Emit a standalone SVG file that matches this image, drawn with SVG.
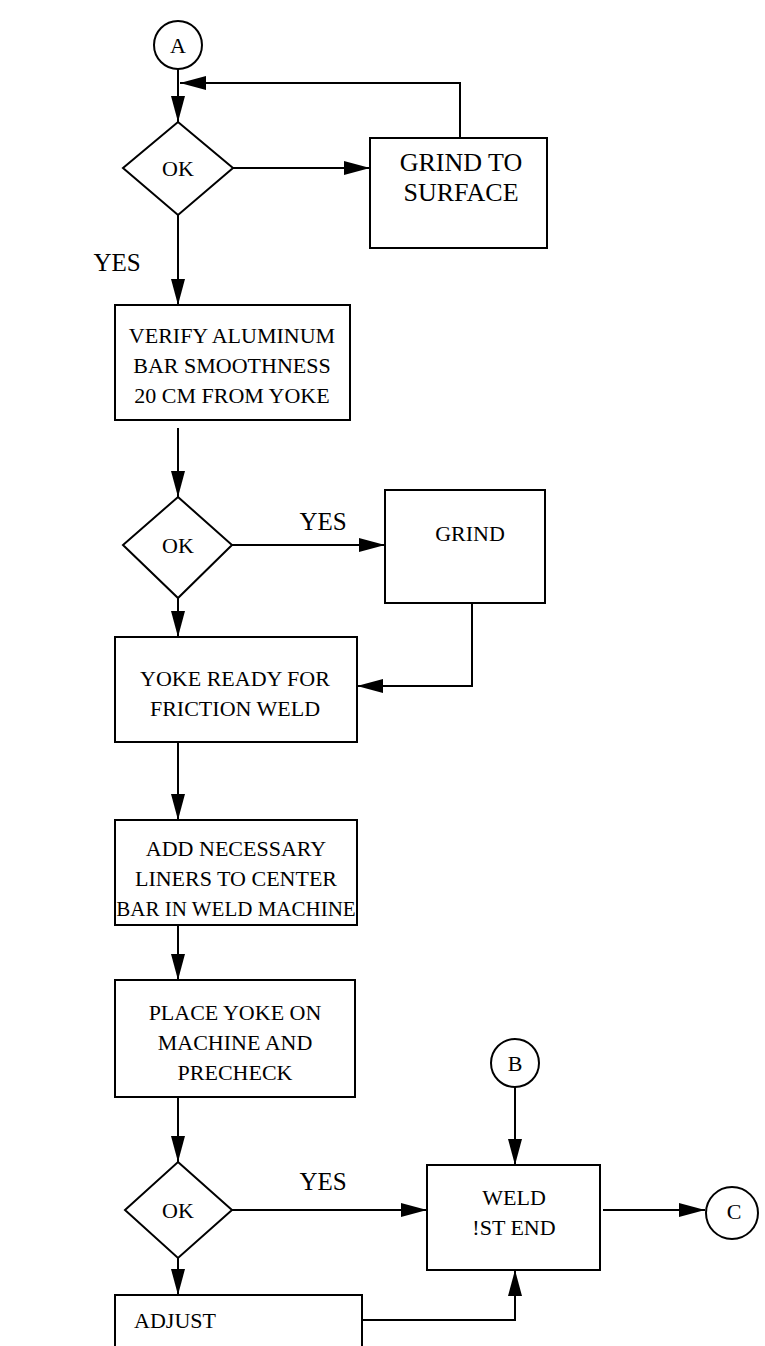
<svg xmlns="http://www.w3.org/2000/svg" width="765" height="1346" viewBox="0 0 765 1346">
<style>
.n{fill:#fff;stroke:#000;stroke-width:2}
.c{fill:none;stroke:#000;stroke-width:2}
text{font-family:"Liberation Serif","Times New Roman",serif;font-size:22px;fill:#000;text-anchor:middle}
.y{font-size:25px}
.big{font-size:26px}
</style>
<defs>
<marker id="ah" markerUnits="userSpaceOnUse" markerWidth="26" markerHeight="14" refX="26" refY="7" orient="auto">
<path d="M0,0 L26,7 L0,14 z" fill="#000"/>
</marker>
</defs>
<rect width="765" height="1346" fill="#fff"/>
<g id="connectors">
<path class="c" d="M178,69 V122" marker-end="url(#ah)"/>
<path class="c" d="M460,138 V83 H180" marker-end="url(#ah)"/>
<path class="c" d="M233,168 H370" marker-end="url(#ah)"/>
<path class="c" d="M178,215 V305" marker-end="url(#ah)"/>
<path class="c" d="M178,428 V497" marker-end="url(#ah)"/>
<path class="c" d="M232,545 H385" marker-end="url(#ah)"/>
<path class="c" d="M472,603 V686 H357" marker-end="url(#ah)"/>
<path class="c" d="M178,598 V637" marker-end="url(#ah)"/>
<path class="c" d="M178,742 V820" marker-end="url(#ah)"/>
<path class="c" d="M178,925 V980" marker-end="url(#ah)"/>
<path class="c" d="M178,1097 V1162" marker-end="url(#ah)"/>
<path class="c" d="M232,1210 H427" marker-end="url(#ah)"/>
<path class="c" d="M515,1087 V1165" marker-end="url(#ah)"/>
<path class="c" d="M603,1210 H705" marker-end="url(#ah)"/>
<path class="c" d="M178,1258 V1295" marker-end="url(#ah)"/>
<path class="c" d="M362,1320 H515 V1270" marker-end="url(#ah)"/>
<text class="y" x="117" y="271">YES</text>
<text class="y" x="323" y="530">YES</text>
<text class="y" x="323" y="1190">YES</text>
</g>
<g id="nodeA"><circle class="n" cx="178" cy="45" r="24"/><text x="178" y="53">A</text></g>
<g id="ok1"><polygon class="n" points="178,122 233,168 178,215 123,168"/><text x="178" y="176">OK</text></g>
<g id="grindSurface"><rect class="n" x="370" y="138" width="177" height="110"/><text class="big" x="461" y="171">GRIND TO</text><text class="big" x="461" y="201">SURFACE</text></g>
<g id="verify"><rect class="n" x="115" y="305" width="235" height="115"/><text x="232" y="343">VERIFY ALUMINUM</text><text x="232" y="373">BAR SMOOTHNESS</text><text x="232" y="403">20 CM FROM YOKE</text></g>
<g id="ok2"><polygon class="n" points="178,497 232,545 178,598 123,545"/><text x="178" y="553">OK</text></g>
<g id="grind"><rect class="n" x="385" y="490" width="160" height="113"/><text x="470" y="541">GRIND</text></g>
<g id="yokeReady"><rect class="n" x="115" y="637" width="242" height="105"/><text x="235" y="686">YOKE READY FOR</text><text x="235" y="716">FRICTION WELD</text></g>
<g id="addLiners"><rect class="n" x="115" y="820" width="242" height="105"/><text x="236" y="856">ADD NECESSARY</text><text x="236" y="886">LINERS TO CENTER</text><text x="236" y="916" style="font-size:21px">BAR IN WELD MACHINE</text></g>
<g id="placeYoke"><rect class="n" x="115" y="980" width="240" height="117"/><text x="235" y="1020">PLACE YOKE ON</text><text x="235" y="1050">MACHINE AND</text><text x="235" y="1080">PRECHECK</text></g>
<g id="ok3"><polygon class="n" points="178,1162 232,1210 178,1258 125,1210"/><text x="178" y="1218">OK</text></g>
<g id="nodeB"><circle class="n" cx="515" cy="1063" r="24"/><text x="515" y="1071">B</text></g>
<g id="weld"><rect class="n" x="427" y="1165" width="173" height="105"/><text x="514" y="1205">WELD</text><text x="514" y="1235">!ST END</text></g>
<g id="nodeC"><circle class="n" cx="732" cy="1213" r="26"/><text x="734" y="1219">C</text></g>
<g id="adjust"><path class="n" d="M115,1346 V1295 H362 V1346"/><text x="175" y="1328">ADJUST</text></g>
</svg>
